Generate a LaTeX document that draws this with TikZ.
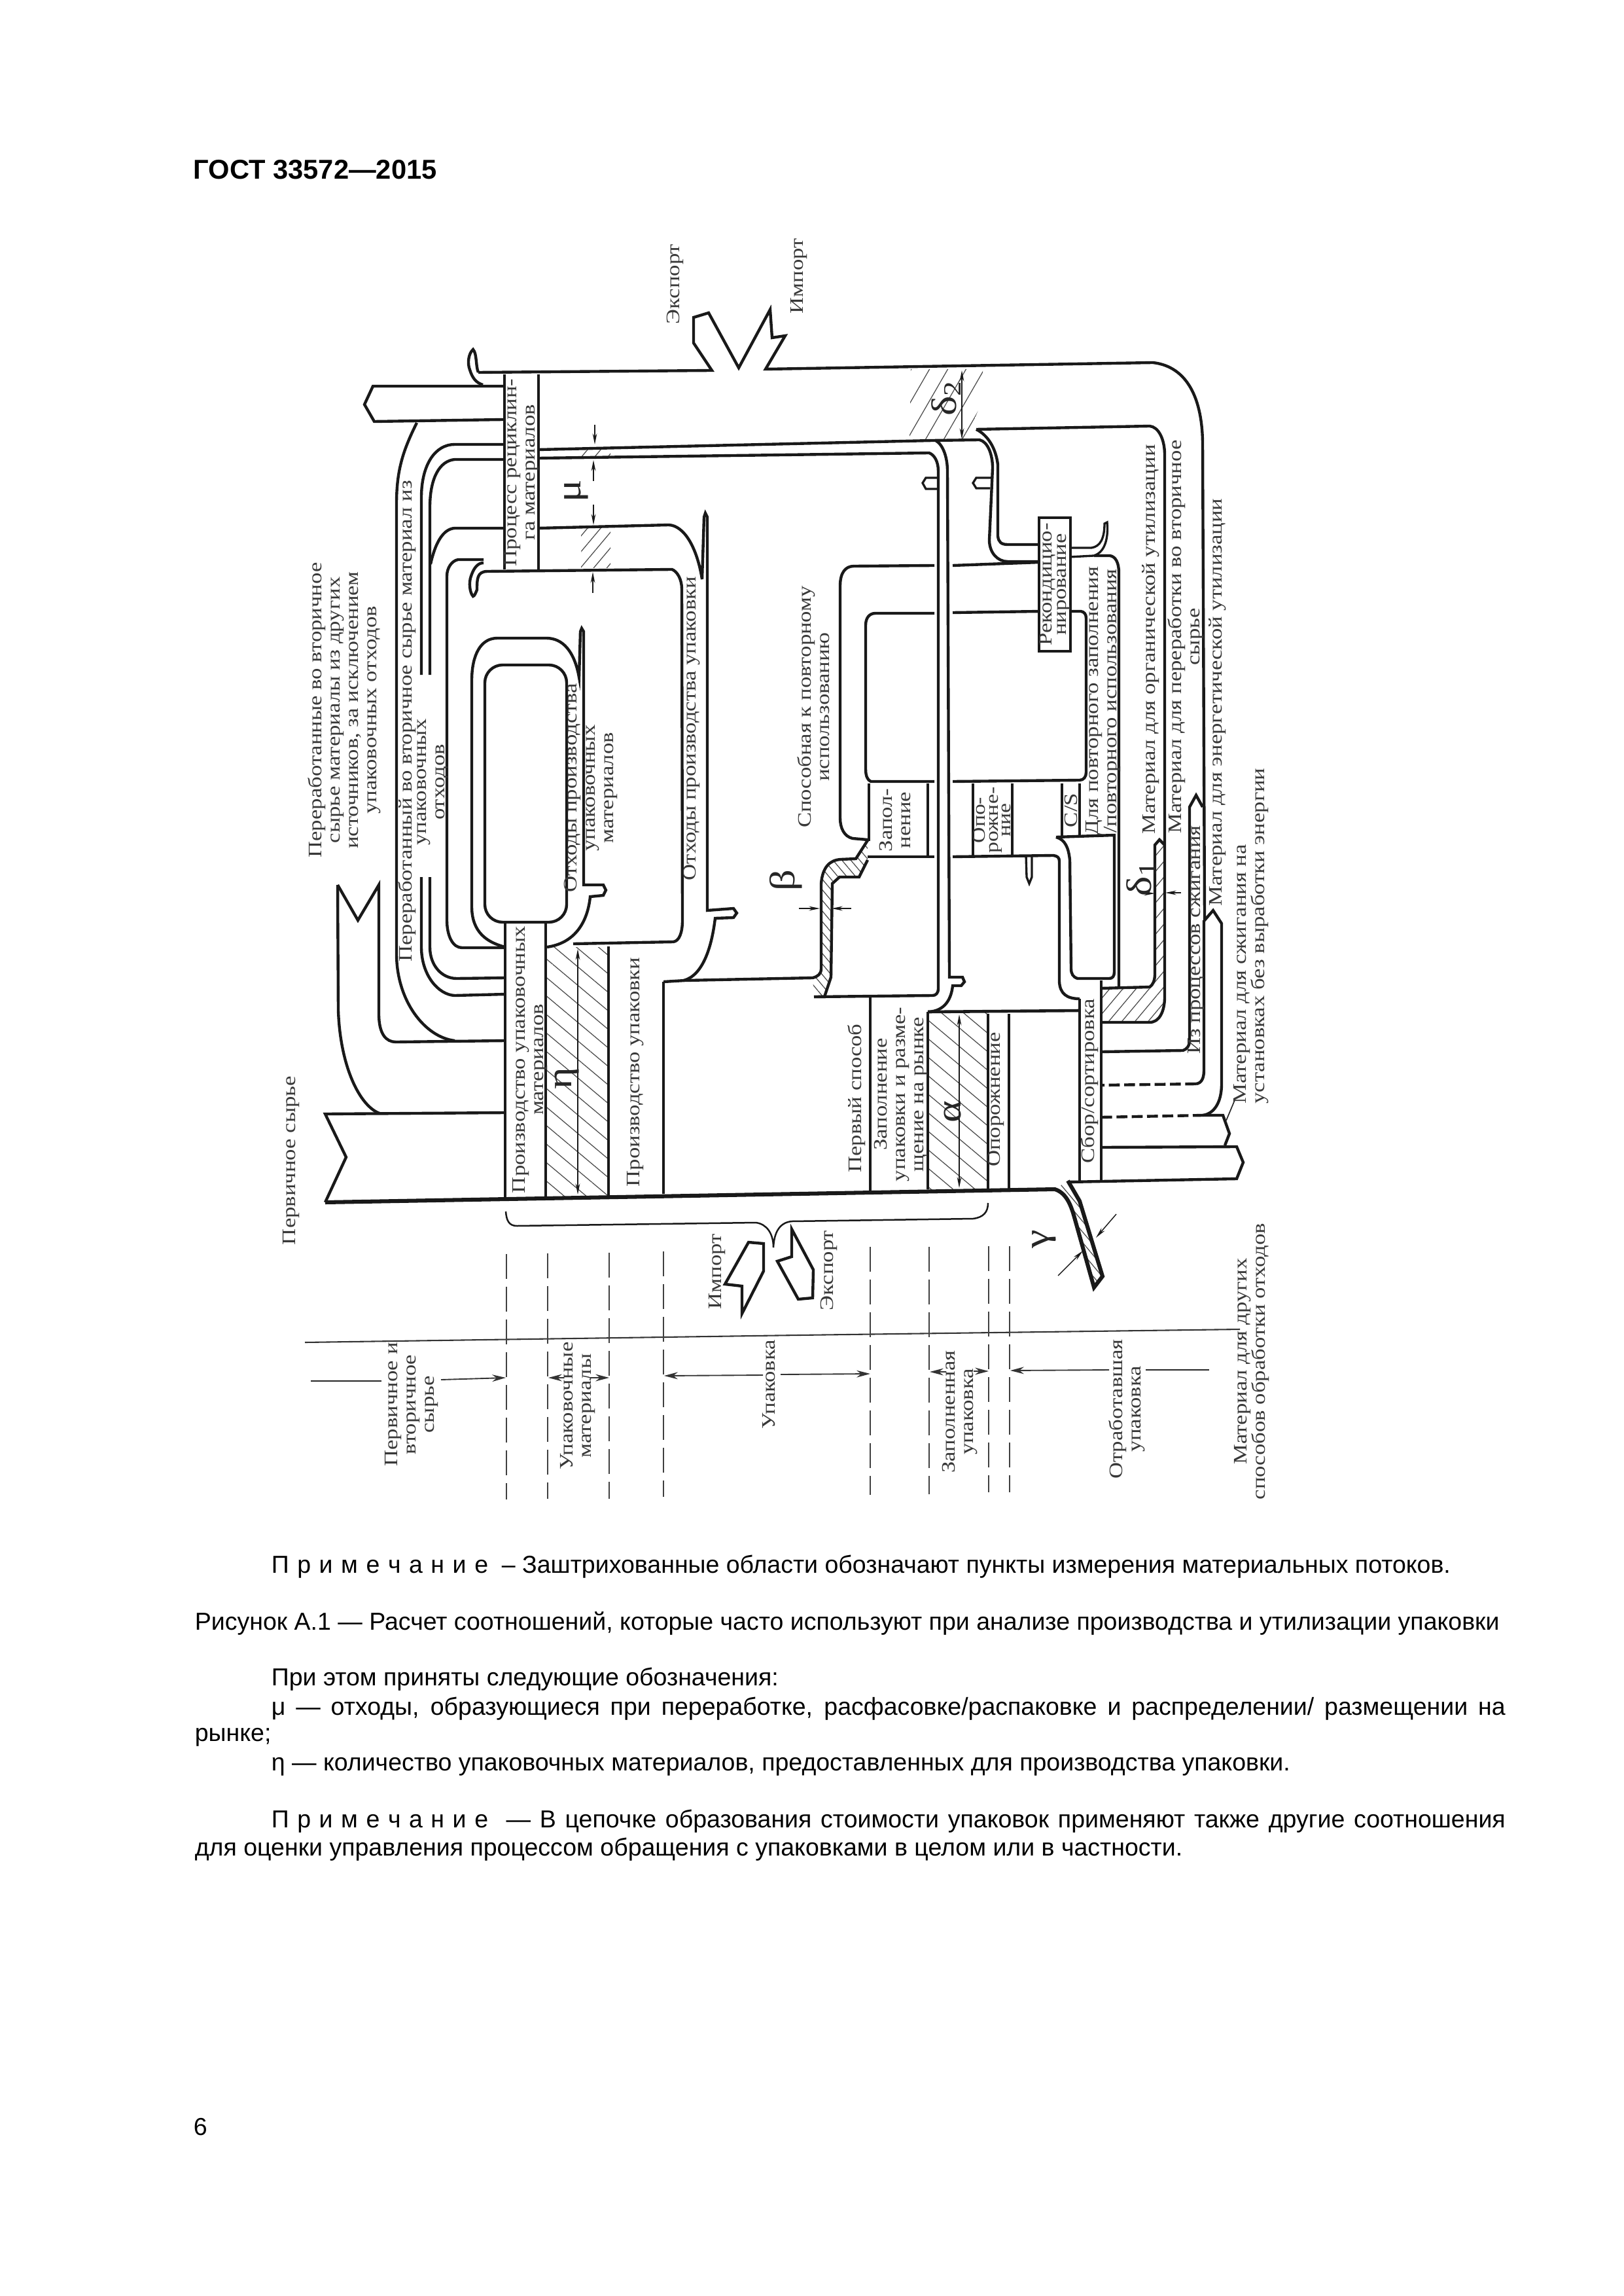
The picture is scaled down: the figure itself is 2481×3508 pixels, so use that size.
\documentclass[tikz,border=0pt]{standalone}
\usepackage{fontspec}
\setmainfont{Liberation Sans}
\newfontfamily\figfont[FakeStretch=1.19]{Liberation Serif}
\usetikzlibrary{arrows.meta,patterns.meta}
\tikzset{
  flow/.style  ={line width=1.05pt, black!90},
  wall/.style  ={line width=0.8pt, black!90},
  main/.style  ={line width=1.45pt, black!90},
  thinl/.style ={line width=0.4pt, black!85},
  dim/.style   ={line width=0.35pt, black!90, -{Stealth[length=4pt,width=1.6pt]}},
  bound/.style ={line width=0.45pt, black!80, -{Stealth[length=5pt,width=2.6pt]}},
  cut/.style   ={line width=0.4pt, black!75, dash pattern=on 9pt off 3pt},
  dashf/.style ={line width=1.05pt, black!90, dash pattern=on 4pt off 1.6pt},
  lab/.style   ={rotate=90, align=center, inner sep=0pt, text=black!78,
                 font=\figfont\fontsize{7}{6.7}\selectfont},
  sym/.style   ={rotate=90, inner sep=0pt, text=black!85,
                 font=\figfont\fontsize{13}{13}\selectfont},
  body/.style  ={anchor=base west, inner sep=0pt, font=\fontsize{9}{11}\selectfont},
  hatchr/.style={pattern={Lines[angle=50,distance=3.7pt,line width=0.3pt]}, pattern color=black!70},
  hatchw/.style={pattern={Lines[angle=60,distance=5.8pt,line width=0.3pt]}, pattern color=black!70},
  hatchl/.style={pattern={Lines[angle=-40,distance=5.2pt,line width=0.3pt]}, pattern color=black!70},
  hatchn/.style={pattern={Lines[angle=-50,distance=2.5pt,line width=0.3pt]}, pattern color=black!70},
}
\newcommand{\fullw}[1]{\makebox[452.6pt][s]{#1}}
\newcommand{\notehead}{\makebox[79.5pt][s]{П р и м е ч а н и е}}

\begin{document}
\lineskiplimit=-5pt
\begin{tikzpicture}[x=0.24pt,y=-0.24pt]
  \useasboundingbox (0,0) rectangle (2481,3508);

  % hatched measuring zones
  \fill[hatchl] (836,1447) rectangle (930,1827);
  \fill[hatchl] (1418,1546) rectangle (1510,1817);
  \fill[hatchr] (889,686) rectangle (933,697);
  \fill[hatchr] (888,807) rectangle (933,868);
  \fill[hatchw] (1390,672) -- (1392,564) -- (1502,564) -- (1502,610) -- (1476,672) -- cycle;
  \fill[hatchr] (1683,1510) -- (1757,1508) .. controls (1762,1505) and (1765,1498) .. (1765,1488)
        -- (1765,1291) -- (1772,1283) -- (1780,1291) -- (1780,1523)
        .. controls (1780,1545) and (1772,1562) .. (1757,1562) -- (1683,1562) -- cycle;
  \fill[hatchn] (1242,1494) .. controls (1250,1492) and (1255,1488) .. (1255,1480) -- (1255,1350)
        .. controls (1257,1325) and (1268,1314) .. (1285,1313) -- (1308,1312) -- (1326,1284)
        -- (1326,1314) -- (1313,1340) -- (1283,1340) -- (1272,1350) -- (1270,1493)
        -- (1260,1523) -- (1244,1523) -- cycle;
  \fill[hatchn] (1612,1817) .. controls (1628,1822) and (1636,1838) .. (1642,1860) -- (1672,1967)
        -- (1685,1950) -- (1650,1835) -- (1632,1804) -- cycle;

  % outer band with export and import
  \draw[flow] (731,569) -- (1088,566) -- (1060,524) -- (1060,485) -- (1083,478) -- (1129,562)
        -- (1177,473) -- (1180,516) -- (1200,513) -- (1170,564) -- (1762,554)
        .. controls (1815,560) and (1838,610) .. (1838,680) -- (1841,1406) -- (1854,1391)
        -- (1867,1411) -- (1867,1656) .. controls (1867,1685) and (1855,1702) .. (1838,1704);
  \draw[flow] (731,569) .. controls (727,560) and (729,540) .. (723,534)
        .. controls (716,540) and (714,555) .. (718,565) .. controls (722,578) and (728,585) .. (738,588);
  \draw[flow] (769,590) -- (570,590) -- (557,618) -- (572,644) -- (769,641);
  \draw[flow] (637,646) .. controls (615,690) and (606,720) .. (606,770) -- (606,1457)
        .. controls (606,1530) and (650,1585) .. (695,1590);

  % recycling column
  \draw[wall] (771,572) -- (771,870) (823,572) -- (823,870);

  % pair of lines left of the recycling column
  \draw[flow] (769,679) -- (695,679) .. controls (665,679) and (644,710) .. (644,760) -- (644,1031);
  \draw[flow] (769,702) -- (695,702) .. controls (672,704) and (657,730) .. (657,775) -- (657,1031);
  \draw[flow] (644,1340) -- (644,1447) .. controls (644,1490) and (670,1520) .. (695,1521) -- (772,1519);
  \draw[flow] (657,1340) -- (657,1447) .. controls (657,1475) and (675,1495) .. (698,1495) -- (772,1494);

  % return flows to the right
  \draw[flow] (823,687) -- (1425,673) -- (1497,672) .. controls (1510,675) and (1517,695) .. (1517,715)
        -- (1512,825) .. controls (1512,845) and (1525,858) .. (1540,858) -- (1590,858);
  \draw[flow] (823,700) -- (1420,692) .. controls (1428,695) and (1434,705) .. (1434,720) -- (1434,1510)
        .. controls (1434,1518) and (1430,1521) .. (1425,1521) -- (1244,1523);
  \draw[flow] (1430,673) .. controls (1442,680) and (1448,700) .. (1448,720) -- (1451,1493) -- (1471,1493)
        -- (1474,1500) -- (1469,1506) -- (1456,1506) .. controls (1454,1525) and (1445,1545) .. (1418,1546);
  \draw[wall] (1434,730) -- (1415,730) -- (1410,738) -- (1415,747) -- (1434,747);
  \draw[wall] (1515,730) -- (1492,730) -- (1487,738) -- (1492,746) -- (1513,746);

  % organic and reconditioning branch
  \draw[flow] (1492,656) .. controls (1510,665) and (1522,685) .. (1525,710) -- (1525,819)
        .. controls (1526,828) and (1530,832) .. (1540,832) -- (1590,832);
  \draw[flow] (1492,656) -- (1757,651) .. controls (1770,652) and (1780,670) .. (1780,695) -- (1780,1523)
        .. controls (1780,1545) and (1772,1562) .. (1757,1562) -- (1683,1562);
  \draw[flow] (1683,1510) -- (1757,1508) .. controls (1762,1505) and (1765,1498) .. (1765,1488)
        -- (1765,1291) -- (1772,1283) -- (1780,1291);
  \draw[wall] (1635,837) -- (1668,837) .. controls (1682,835) and (1688,822) .. (1688,800)
        -- (1692,798) .. controls (1694,820) and (1690,843) .. (1672,849) -- (1635,851);
  \draw[flow] (1672,849) -- (1696,849) .. controls (1705,850) and (1710,860) .. (1710,875) -- (1710,1508);

  % reuse loops
  \draw[flow] (1326,1283) -- (1303,1281) .. controls (1290,1278) and (1284,1265) .. (1284,1250) -- (1284,895)
        .. controls (1284,875) and (1292,865) .. (1305,865) -- (1428,864);
  \draw[flow] (1456,864) -- (1590,859);
  \draw[flow] (1428,1194) -- (1331,1194) .. controls (1326,1192) and (1323,1186) .. (1323,1175) -- (1323,955)
        .. controls (1323,945) and (1328,937) .. (1338,937) -- (1428,937);
  \draw[flow] (1456,936) -- (1590,934);
  \draw[flow] (1635,934) -- (1652,934) .. controls (1657,935) and (1660,938) .. (1660,945) -- (1660,1180)
        .. controls (1660,1187) and (1656,1192) .. (1650,1192) -- (1456,1194);
  \draw[flow] (1326,1309) -- (1428,1309);
  \draw[flow] (1456,1309) -- (1610,1307) .. controls (1616,1308) and (1619,1310) .. (1619,1316) -- (1619,1500)
        .. controls (1620,1518) and (1630,1526) .. (1650,1526);
  \draw[wall] (1328,1197) -- (1328,1285) (1418,1197) -- (1418,1309)
        (1487,1197) -- (1487,1307) (1547,1197) -- (1547,1307)
        (1623,1197) -- (1623,1278) (1650,1197) -- (1650,1278);
  \draw[wall] (1568,1307) -- (1569,1340) -- (1573,1350) -- (1577,1340) -- (1577,1307);
  \draw[flow] (1614,1279) -- (1703,1276) -- (1703,1485) .. controls (1703,1492) and (1700,1495) .. (1695,1495)
        -- (1647,1495) .. controls (1640,1493) and (1637,1488) .. (1637,1480) -- (1635,1314)
        .. controls (1633,1295) and (1628,1283) .. (1614,1279);

  % beta band and the waste hook of packaging
  \draw[flow] (1014,1500) -- (1047,1498) -- (1242,1494) .. controls (1250,1492) and (1255,1488) .. (1255,1480)
        -- (1255,1350) .. controls (1257,1325) and (1268,1314) .. (1285,1313) -- (1308,1312) -- (1326,1284);
  \draw[flow] (1244,1523) -- (1260,1523) -- (1270,1493) -- (1272,1350) -- (1283,1340) -- (1313,1340) -- (1326,1314);
  \draw[flow] (769,807) -- (695,807) .. controls (677,808) and (665,830) .. (658,862);
  \draw[flow] (823,807) -- (1022,802) .. controls (1045,803) and (1065,835) .. (1073,885) -- (1076,790)
        -- (1078,784) -- (1081,790) -- (1081,1391) -- (1121,1388) -- (1126,1395) -- (1121,1402) -- (1093,1403)
        .. controls (1088,1445) and (1075,1490) .. (1045,1498);
  \draw[flow] (745,873) -- (1027,870) .. controls (1035,873) and (1042,885) .. (1042,900) -- (1043,1406)
        .. controls (1043,1425) and (1038,1438) .. (1029,1439) -- (876,1442);
  \draw[flow] (739,855) -- (700,855) .. controls (690,857) and (683,868) .. (683,880) -- (683,1406)
        .. controls (683,1430) and (692,1448) .. (706,1448) -- (772,1448);
  \draw[flow] (745,873) .. controls (729,873) and (729,885) .. (729,901) .. controls (727,906) and (725,911) .. (723,911)
        .. controls (718,906) and (716,890) .. (720,880) .. controls (724,868) and (730,860) .. (739,860);

  % packaging material loops
  \draw[flow, rounded corners=6.5pt] (741,1016) rectangle (866,1409);
  \draw[flow] (772,1447) .. controls (745,1440) and (721,1425) .. (721,1385) -- (721,1040)
        .. controls (721,1000) and (735,975) .. (760,975) -- (835,975) .. controls (860,975) and (878,995) .. (885,1035)
        -- (887,965) -- (889,960) -- (892,965) -- (892,1352) -- (922,1352) -- (926,1360) -- (922,1368) -- (902,1370)
        .. controls (899,1400) and (885,1440) .. (836,1447);

  % raw material arrows
  \draw[flow] (516,1352) -- (547,1406) -- (579,1352) -- (579,1549) .. controls (579,1580) and (590,1592) .. (605,1592) -- (772,1590);
  \draw[flow] (516,1352) -- (517,1544) .. controls (520,1630) and (550,1690) .. (580,1701);
  \draw[flow] (772,1700) -- (497,1702) -- (529,1768) -- (497,1837);

  % main bottom line, columns and gamma band
  \draw[main] (497,1837) -- (1612,1817) .. controls (1628,1822) and (1636,1838) .. (1642,1860) -- (1672,1967)
        -- (1685,1950) -- (1650,1835) -- (1632,1804);
  \draw[wall] (772,1411) -- (772,1832) (834,1411) -- (834,1829) (930,1446) -- (930,1827) (1014,1500) -- (1014,1824)
        (1330,1523) -- (1330,1819) (1418,1546) -- (1418,1817) (1510,1549) -- (1510,1817) (1542,1549) -- (1542,1817)
        (1650,1526) -- (1650,1804) (1683,1498) -- (1683,1804);
  \draw[main,line width=1.1pt] (1418,1546) -- (1650,1544);

  % outputs on the right
  \draw[flow] (1683,1607) -- (1808,1605) .. controls (1814,1603) and (1818,1598) .. (1818,1590)
        -- (1818,1233) -- (1828,1215) -- (1838,1233);
  \draw[flow] (1840,1406) -- (1840,1635) .. controls (1840,1648) and (1836,1655) .. (1828,1656);
  \draw[dashf] (1828,1656) -- (1683,1658);
  \draw[dashf] (1683,1707) -- (1838,1704);
  \draw[flow] (1838,1704) -- (1869,1704) -- (1879,1732) -- (1872,1750);
  \draw[flow] (1683,1753) -- (1890,1752) -- (1900,1776) -- (1890,1801) -- (1632,1806);
  \draw[thinl] (1874,1712) -- (1887,1681);

  % brace, import and export below the line
  \draw[wall,line width=0.6pt] (773,1851) .. controls (774,1865) and (778,1873) .. (790,1873) -- (1155,1868)
        .. controls (1172,1870) and (1182,1885) .. (1182,1906) .. controls (1183,1885) and (1190,1868) .. (1210,1866)
        -- (1487,1862) .. controls (1503,1860) and (1510,1852) .. (1510,1838);
  \draw[flow] (1144,1898) -- (1167,1900) -- (1167,1942) -- (1134,2007) -- (1134,1965) -- (1108,1962) -- cycle;
  \draw[flow] (1210,1878) -- (1243,1940) -- (1242,1983) -- (1220,1985) -- (1188,1927) -- (1210,1920) -- cycle;

  % scale line and boundaries
  \draw[line width=0.5pt, black!80] (466,2051) -- (1220,2040) -- (1895,2031);
  \draw[cut] (774,1916) -- (774,2291);
  \draw[cut] (837,1915) -- (837,2290);
  \draw[cut] (931,1914) -- (931,2290);
  \draw[cut] (1014,1912) -- (1014,2287);
  \draw[cut] (1330,1905) -- (1330,2284);
  \draw[cut] (1420,1905) -- (1420,2283);
  \draw[cut] (1511,1904) -- (1511,2280);
  \draw[cut] (1543,1904) -- (1543,2280);
  \draw[thinl] (475,2110) -- (583,2110);
  \draw[bound] (674,2108) -- (773,2105);
  \draw[bound] (862,2105) -- (838,2105);
  \draw[bound] (902,2105) -- (931,2105);
  \draw[bound] (1166,2101) -- (1015,2102);
  \draw[bound] (1193,2100) -- (1330,2099);
  \draw[bound] (1446,2096) -- (1421,2096);
  \draw[bound] (1488,2095) -- (1511,2095);
  \draw[bound] (1695,2093) -- (1544,2094);
  \draw[thinl] (1751,2093) -- (1848,2093);

  % measure arrows
  \draw[dim] (909,649) -- (909,679);
  \draw[dim] (907,735) -- (907,703);
  \draw[dim] (907,771) -- (907,802);
  \draw[dim] (906,906) -- (906,874);
  \draw[dim,{Stealth[length=4pt,width=1.6pt]}-{Stealth[length=4pt,width=1.6pt]}] (1470,566) -- (1470,671);
  \draw[dim,{Stealth[length=4pt,width=1.6pt]}-{Stealth[length=4pt,width=1.6pt]}] (883,1450) -- (883,1825);
  \draw[dim,{Stealth[length=4pt,width=1.6pt]}-{Stealth[length=4pt,width=1.6pt]}] (1466,1550) -- (1466,1815);
  \draw[dim] (1221,1388) -- (1253,1388);
  \draw[dim] (1301,1388) -- (1271,1388);
  \draw[dim] (1747,1365) -- (1765,1365);
  \draw[dim] (1805,1364) -- (1781,1364);
  \draw[dim] (1617,1949) -- (1655,1911);
  \draw[dim] (1706,1855) -- (1675,1891);

  % measure symbols
  \node[sym] (mu) at (881,750) {μ};
  \node[sym] (eta) at (866,1648) {η};
  \node[sym] (alpha) at (1456,1699) {α};
  \node[sym] (beta) at (1201,1345) {β};
  \node[sym] (gamma) at (1596,1893) {γ};
  \node[sym] (deltatwo) at (1446,608) {δ\textsubscript{2}};
  \node[sym] (deltaone) at (1744,1342) {δ\textsubscript{1}};

  % labels of the figure
  \node[lab] (expup) at (1032,434) {Экспорт};
  \node[lab] (impup) at (1221,422) {Импорт};
  \node[lab] (rawsec) at (526,1085) {Переработанные во вторичное\\сырье материалы из других\\источников, за исключением\\упаковочных отходов};
  \node[lab] (recone) at (622,1102) {Переработанный во вторичное сырье материал из};
  \node[lab] (rectwo) at (661,1195) {упаковочных\\отходов};
  \node[lab] (wastemat) at (903,1204) {Отходы производства\\упаковочных\\материалов};
  \node[lab] (wastepack) at (1057,1113) {Отходы производства упаковки};
  \node[lab] (prodmat) at (810,1619) {Производство упаковочных\\материалов};
  \node[lab] (prodpack) at (971,1638) {Производство упаковки};
  \node[lab] (rawprim) at (445,1773) {Первичное сырье};
  \node[lab] (reuse) at (1243,1080) {Способная к повторному\\использованию};
  \node[lab] (filling) at (1368,1253) {Запол-\\нение};
  \node[lab, font=\figfont\fontsize{6.8}{4.7}\selectfont] (emptying) at (1516,1253) {Опо-\\рожне-\\ние};
  \node[lab] (cs) at (1637,1238) {C/S};
  \node[lab] (refill) at (1686,1071) {Для повторного заполнения\\/повторного использования};
  \node[lab] (organic) at (1759,977) {Материал для органической утилизации};
  \node[lab] (secondary) at (1812,973) {Материал для переработки во вторичное\\сырье};
  \node[lab] (energy) at (1861,1073) {Материал для энергетической утилизации};
  \node[lab] (burnt) at (1828,1436) {Из процессов сжигания};
  \node[lab, align=left] (burnnoen) at (1912,1430) {Материал для сжигания на\\установках без выработки энергии};
  \node[lab] (firstway) at (1309,1678) {Первый способ};
  \node[lab] (market) at (1377,1672) {Заполнение\\упаковки и разме-\\щение на рынке};
  \node[lab] (empty) at (1522,1680) {Опорожнение};
  \node[lab] (collect) at (1665,1652) {Сбор/сортировка};
  \node[lab] (recycle) at (797,722) {Процесс рециклин-\\га материалов};
  \node[lab, draw=black!90, fill=white, line width=0.9pt, minimum width=49pt, minimum height=10.8pt, font=\figfont\fontsize{7}{5.4}\selectfont] (recond) at (1612,893) {Рекондицио-\\нирование};
  \node[lab] (impdown) at (1096,1943) {Импорт};
  \node[lab] (expdown) at (1267,1941) {Экспорт};
  \node[lab] (primsec) at (629,2146) {Первичное и\\вторичное\\сырье};
  \node[lab] (packmat) at (883,2148) {Упаковочные\\материалы};
  \node[lab] (pack) at (1175,2115) {Упаковка};
  \node[lab] (filled) at (1467,2157) {Заполненная\\упаковка};
  \node[lab] (used) at (1722,2153) {Отработавшая\\упаковка};
  \node[lab] (other) at (1913,2080) {Материал для других\\способов обработки отходов};

  % page text
  \node[body, font=\bfseries\fontsize{10}{12}\selectfont] (gost) at (295,274) {ГОСТ 33572—2015};
  \node[body] (noteone) at (414,2403) {\notehead\ \ – Заштрихованные области обозначают пункты измерения материальных потоков.};
  \node[body] (caption) at (297,2490) {Рисунок А.1 — Расчет соотношений, которые часто используют при анализе производства и утилизации упаковки};
  \node[body] (legend) at (414,2575) {При этом приняты следующие обозначения:};
  \node[body] (legmu) at (414,2620) {\fullw{μ — отходы, образующиеся при переработке, расфасовке/распаковке и распределении/ размещении на}};
  \node[body] (legmub) at (297,2660) {рынке;};
  \node[body] (legeta) at (414,2705) {η — количество упаковочных материалов, предоставленных для производства упаковки.};
  \node[body] (notetwo) at (414,2792) {\fullw{\notehead\ \ — В цепочке образования стоимости упаковок применяют также другие соотношения}};
  \node[body] (notetwob) at (297,2835) {для оценки управления процессом обращения с упаковками в целом или в частности.};
  \node[body] (pageno) at (295,3262) {6};
\end{tikzpicture}
\end{document}
